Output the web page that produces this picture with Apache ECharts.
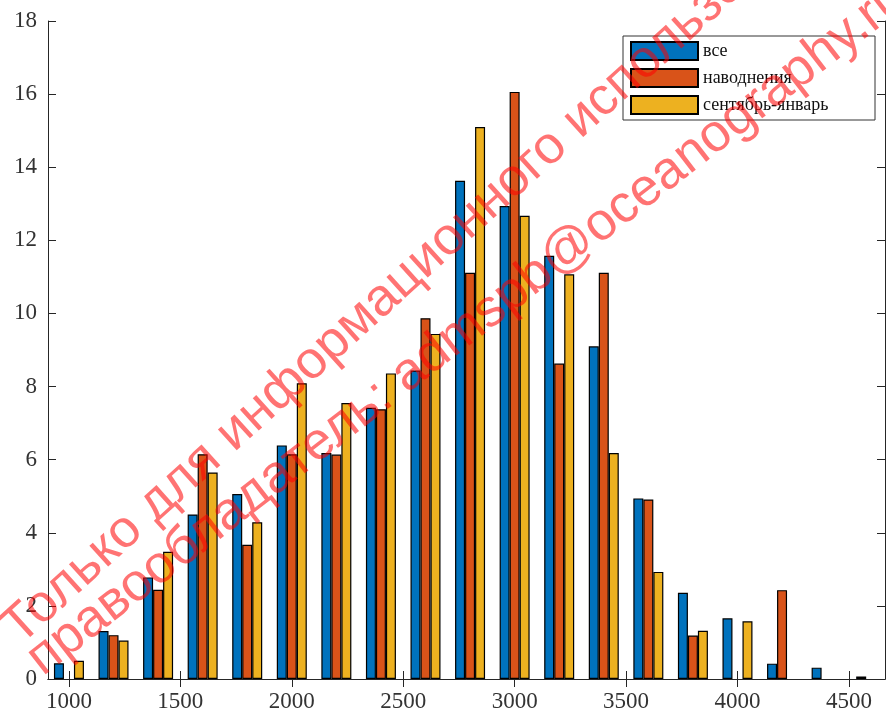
<!DOCTYPE html>
<html>
<head>
<meta charset="utf-8">
<script src="https://cdn.jsdelivr.net/npm/echarts@6/dist/echarts.min.js"></script>
<style>
  html, body { margin: 0; padding: 0; background: #fff; }
  #chart { width: 886px; height: 713px; }
</style>
</head>
<body>
<div id="chart"></div>
<script>
// Bin centres (x) and percentages per group
const bins = [1000, 1200, 1400, 1600, 1800, 2000, 2200, 2400, 2600, 2800,
              3000, 3200, 3400, 3600, 3800, 4000, 4200, 4400, 4600];
const allValues   = [0.43, 1.31, 2.78, 4.50, 5.06, 6.39, 6.18, 7.42, 8.44, 13.63,
                     12.94, 11.58, 9.10, 4.94, 2.36, 1.66, 0.42, 0.31, 0.07];
const floodValues = [0, 1.20, 2.44, 6.15, 3.67, 6.15, 6.14, 7.38, 9.87, 11.11,
                     16.06, 8.63, 11.11, 4.91, 1.19, 0, 2.43, 0, 0];
const sepJanValues = [0.50, 1.05, 3.48, 5.65, 4.29, 8.09, 7.55, 8.36, 9.44, 15.10,
                      12.67, 11.07, 6.18, 2.93, 1.32, 1.58, 0, 0, 0];
const seriesNames = ['все', 'наводнения', 'сентябрь-январь'];
const xTicks = [1000, 1500, 2000, 2500, 3000, 3500, 4000, 4500];

const colors = ['#0072BD', '#D95319', '#EDB120'];
const axisColor = '#262626';
const labelFont = { fontFamily: 'Liberation Serif', fontSize: 23, color: '#333' };

// empty bins get no bar at all
function pairs(values) {
  return bins.map((b, i) => [b, values[i] === 0 ? '-' : values[i]]);
}

function barSeries(name, values, color) {
  return {
    name: name,
    type: 'bar',
    data: pairs(values),
    barWidth: 10,
    barGap: '0%',
    itemStyle: { color: color, borderColor: '#000', borderWidth: 1.2 },
    emphasis: { disabled: true }
  };
}

const xRange = { min: 906, max: 4662 };

const chart = echarts.init(document.getElementById('chart'), null, { renderer: 'canvas' });
chart.setOption({
  animation: false,
  backgroundColor: '#fff',
  grid: { left: 48, right: 1, top: 21, bottom: 33, containLabel: false },
  xAxis: [
    {
      type: 'value', position: 'bottom', min: xRange.min, max: xRange.max,
      axisLine: { show: true, lineStyle: { color: axisColor, width: 1 } },
      axisTick: { show: true, inside: true, length: 8, customValues: xTicks, lineStyle: { color: axisColor } },
      axisLabel: Object.assign({ customValues: xTicks, margin: 11, formatter: v => String(v) }, labelFont),
      splitLine: { show: false }
    },
    {
      type: 'value', position: 'top', min: xRange.min, max: xRange.max,
      axisLine: { show: true, lineStyle: { color: axisColor, width: 1 } },
      axisTick: { show: true, inside: true, length: 8, customValues: xTicks, lineStyle: { color: axisColor } },
      axisLabel: { show: false },
      splitLine: { show: false }
    }
  ],
  yAxis: [
    {
      type: 'value', position: 'left', min: 0, max: 18, interval: 2,
      axisLine: { show: true, lineStyle: { color: axisColor, width: 1 } },
      axisTick: { show: true, inside: true, length: 8, lineStyle: { color: axisColor } },
      axisLabel: Object.assign({ margin: 11 }, labelFont),
      splitLine: { show: false }
    },
    {
      type: 'value', position: 'right', min: 0, max: 18, interval: 2,
      axisLine: { show: true, lineStyle: { color: axisColor, width: 1 } },
      axisTick: { show: true, inside: true, length: 8, lineStyle: { color: axisColor } },
      axisLabel: { show: false },
      splitLine: { show: false }
    }
  ],
  legend: {
    left: 623, top: 36,
    orient: 'vertical',
    itemWidth: 67, itemHeight: 18, itemGap: 7,
    padding: [5, 7, 5, 7],
    borderColor: '#333', borderWidth: 1,
    backgroundColor: '#fff',
    icon: 'rect',
    data: seriesNames,
    textStyle: { fontFamily: 'Liberation Serif', fontSize: 18, color: '#111', width: 165, lineHeight: 18 }
  },
  series: [
    barSeries(seriesNames[0], allValues, colors[0]),
    barSeries(seriesNames[1], floodValues, colors[1]),
    barSeries(seriesNames[2], sepJanValues, colors[2])
  ],
  graphic: [
    {
      type: 'text', x: 28, y: 655, rotation: 0.735, z: 100, silent: true,
      style: {
        text: 'Только для информационного использования',
        font: '53px "Liberation Sans"', fill: 'rgba(255,0,0,0.55)',
        textAlign: 'left', textVerticalAlign: 'bottom'
      }
    },
    {
      type: 'text', x: 50, y: 686, rotation: 0.66, z: 100, silent: true,
      style: {
        text: 'правообладатель: admspb@oceanography.ru',
        font: '53px "Liberation Sans"', fill: 'rgba(255,0,0,0.55)',
        textAlign: 'left', textVerticalAlign: 'bottom'
      }
    }
  ]
});
</script>
</body>
</html>
